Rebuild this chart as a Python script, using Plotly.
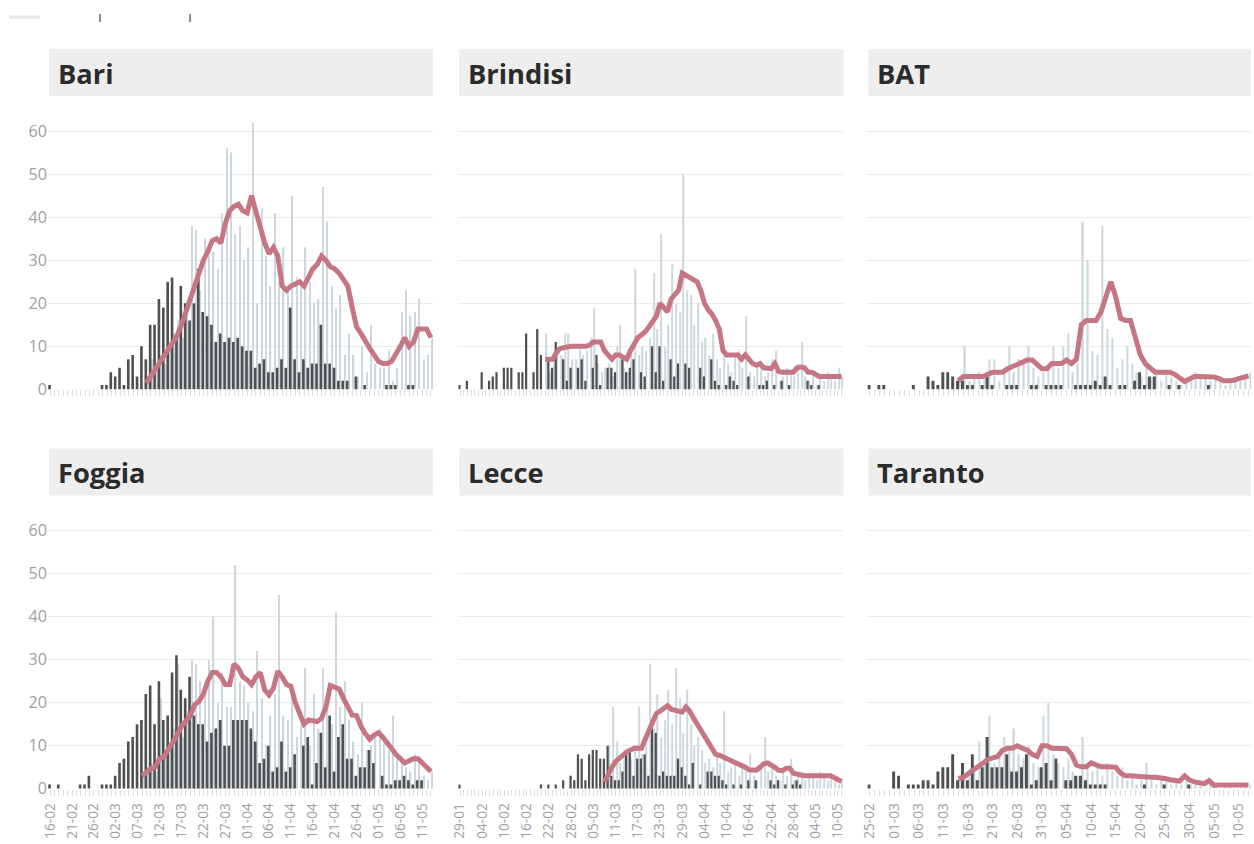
import plotly.graph_objects as go
import pandas as pd

# ---------------- data ----------------
panel_names = ["Bari", "Brindisi", "BAT", "Foggia", "Lecce", "Taranto"]

# first day of each column's daily axis and last day
col_first_day = ["2020-02-16", "2020-01-29", "2020-02-25"]
col_last_day = ["2020-05-13", "2020-05-11", "2020-05-12"]
col_tick_step_days = [5, 6, 5]

# dark bars: daily values from the column's first day
bari_dark = [1,0,0,0,0,0,0,0,0,0,
             0,0,1,1,4,3,5,1,7,8,
             3,10,7,15,15,21,19,25,26,13,
             24,20,16,20,28,18,17,15,11,13,
             11,12,11,12,10,9,9,5,6,7,
             4,4,5,7,5,19,7,4,7,5,
             6,6,15,6,6,5,2,2,2,0,
             3,0,1,0,0,0,0,1,1,1,
             0,0,1,1,0,0,0,0]
brindisi_dark = [1,0,2,0,0,0,4,0,2,3,
                 4,0,5,5,5,0,4,4,13,0,
                 4,14,8,0,7,5,11,0,7,2,
                 5,0,5,7,2,0,5,8,1,0,
                 5,5,4,0,7,4,5,7,0,4,
                 3,0,10,4,10,2,0,7,3,6,
                 0,6,5,0,0,5,3,0,7,2,
                 1,0,1,3,2,1,0,0,3,0,
                 0,1,1,2,0,1,0,2,0,1,
                 0,0,0,0,2,1,0,1,0,0,
                 0,0,0,0]
bat_dark = [1,0,1,1,0,0,0,0,0,1,
            0,0,3,2,1,4,4,3,2,2,
            1,1,0,1,3,1,0,0,1,1,
            1,0,0,1,1,0,1,1,1,1,
            0,0,1,1,1,1,2,1,3,1,
            0,1,1,0,2,4,1,3,3,0,
            0,1,0,1,0,0,0,0,0,1,
            0,0,0,0,0,0,0,0]
foggia_dark = [1,0,1,0,0,0,0,1,1,3,
               0,0,1,1,1,3,6,7,11,12,
               15,16,22,24,15,25,16,17,27,31,
               23,21,26,17,15,15,11,13,14,16,
               10,10,16,16,16,16,14,11,6,7,
               10,4,5,11,4,5,8,0,10,12,
               1,6,13,5,17,4,12,15,7,7,
               3,5,5,9,6,0,3,1,1,2,
               2,3,2,1,2,2,0,0]
lecce_dark = [1,0,0,0,0,0,0,0,0,0,
              0,0,0,0,0,0,0,0,0,0,
              0,0,1,0,1,0,1,0,2,0,
              3,2,8,7,2,8,9,9,7,7,
              10,3,2,2,4,9,9,3,7,7,
              8,3,14,13,3,4,3,3,3,7,
              5,3,1,6,0,1,0,4,4,3,
              3,2,1,0,1,0,1,0,2,0,
              2,0,0,0,2,1,2,0,1,0,
              1,2,1,0,0,0,0,0,0,0,
              0,0,0,0]
taranto_dark = [1,0,0,0,0,4,3,0,1,1,
                1,2,2,1,4,5,5,8,2,6,
                2,8,2,5,12,5,5,5,8,4,
                4,5,8,1,2,5,6,2,7,0,
                2,2,3,3,2,1,1,1,1,0,
                0,0,0,0,0,0,1,0,0,0,
                1,0,0,0,0,1,0,0,0,0,
                0,0,0,0,0,0,0,0]

# light bars and rolling line: daily values from their own first day
light_first_day = ["2020-03-09", "2020-02-21", "2020-03-14",
                   "2020-03-08", "2020-03-08", "2020-03-14"]

bari_light = [3,7,5,8,6,10,13,16,12,19,
              38,37,23,35,31,32,28,41,56,55,
              36,38,30,33,62,20,42,31,24,41,
              25,33,23,45,26,24,33,25,20,21,
              47,39,24,19,22,8,13,8,3,10,
              4,15,6,5,5,9,2,5,18,23,
              17,18,21,7,8,12]
bari_avg = [1.5,3,4.5,6,7.5,9,10.5,12.5,15,18,
            21,24.5,27.5,30,32,34.5,35,34,38.5,41.5,
            42.5,43,41.5,41,45,41,38,34,31.5,33,
            31,24,23,24,24.5,25,24,26,28,29,
            31,30,28.5,28,27,25.5,24,19,14.5,13,
            11,9.5,8,6.5,6,6,6.5,8,10,12,
            10,11,14,14,14,12]

brindisi_light = [13,4,6,9,8,13,13,7,7,10,
                  8,9,12,19,6,4,5,6,3,10,
                  15,5,4,9,28,8,10,9,12,27,
                  14,36,10,15,29,20,18,50,23,22,
                  15,20,11,12,8,13,7,5,10,6,
                  4,8,9,5,17,4,3,6,5,3,
                  4,7,9,2,3,5,4,3,6,11,
                  3,2,4,1,3,2,4,3,2,5,
                  3]
brindisi_avg = [7,7,7,8.5,9.5,9.7,10,10,10,10,
                10,10,10.3,11,11,11,9,8,7,8,
                8,7.5,7,9,10.5,12,12.7,13.4,14.5,16,
                17,20,19,18,21,22,23,27,26.5,26,
                25.5,25,23,20,18.5,17.5,16,14,9,8,
                8,8,8,7,8,7,6,5.6,6,5,
                5,4.8,6,4.2,4,4,4,4,5,5.2,
                5,4,4,3.5,3,3,3,3,3,3,
                3]

bat_light = [3,10,2,3,4,3,7,7,2,5,
             10,4,7,6,10,5,3,4,6,10,
             5,10,13,4,6,39,30,9,8,38,
             14,12,5,7,10,6,4,3,5,3,
             4,2,4,3,2,1,3,2,4,3,
             3,2,3,2,1,2,3,2,3,4]
bat_avg = [2,3,3,3,3,3,3.5,4,4,4,
           4.8,5.3,6,6.3,6.8,6.8,5.6,4.8,4.8,6,
           6,6,6.8,6,7,15,16,16,16,18,
           22,25,21.5,16.5,16,16,12,8,6,5,
           4,4,4,4,3.5,2.5,1.8,2.4,3,3,
           3,3,2.9,2.5,2,2,2.1,2.5,2.8,3.1]

foggia_light = [3,5,6,4,21,8,10,14,29,12,
                18,30,29,25,22,30,40,20,27,19,
                19,52,25,24,20,18,32,21,10,17,
                22,45,17,16,24,12,15,28,10,22,
                14,28,20,15,41,19,25,16,11,8,
                20,9,10,12,14,11,9,17,7,6,
                5,4,8,6,3,2,4]
foggia_avg = [3,4,4.7,5,7,7.5,9,10.5,12.5,14.5,
              16,17,19.5,20.3,22,25,27,27,26,24.2,
              24.2,29,28,26,25.3,24.2,26,27,23,21.8,
              23.4,27.3,26,24.2,23.8,20,17.5,15,16,15.8,
              15.6,16.4,19,24,23.5,23.2,21,19,17.1,17,
              14.5,12.8,11.5,12.5,13,12,10.5,9,8,7,
              6,6.5,7,7,6,5,4]

lecce_light = [2,10,19,11,6,8,9,7,10,19,
               8,12,29,14,22,12,16,23,15,28,
               21,13,23,15,10,12,9,6,7,5,
               8,6,18,4,5,6,3,5,4,8,
               3,2,5,12,4,5,3,2,4,3,
               7,2,3,4,2,3,3,2,4,3,
               2,3,2,1,2]
lecce_avg = [1.6,3.5,5,6.3,7.2,8,8.6,9,9.4,9.4,
             9.4,11.5,13.5,15.5,17.5,18,18.5,19.3,18.5,18.3,
             18,17.8,19,18,16.5,15,13.6,12.5,10.5,9,
             8,7.8,7.4,7,6.6,6.3,6,5.5,5,4.4,
             4.3,4.3,5,5.8,6,5.6,5,4.3,4.2,4.7,
             4.8,3.6,3.3,3.1,3,3,3,3,3,3,
             3,3,2.6,2,1.7]

taranto_light = [3,2,4,5,11,7,17,6,8,12,
                 9,14,8,7,10,6,5,17,20,8,
                 6,5,7,4,3,12,6,4,5,3,
                 6,4,3,5,2,3,1,2,6,2,
                 1,3,2,1,2,1,3,1,2,1,
                 0,2,1,0,1,1,0,1,1,1]
taranto_avg = [2.4,2.6,3.5,4.3,5,6,6.8,7.2,7.5,9,
               9.4,9.4,10,9.4,9,8,7.5,10,10,9.4,
               9.4,9.4,9.3,8,5.5,5.1,5.1,6,5.5,5.1,
               5.1,5.1,5,3.6,3,3,2.9,2.7,2.7,2.7,
               2.7,2.6,2.4,2.1,1.8,1.8,3,2,1.6,1.4,
               1.2,1.9,0.8,0.9,0.9,0.9,0.9,0.9,0.9,0.9]

y_ticks = [0, 10, 20, 30, 40, 50, 60]

dark_series = [bari_dark, brindisi_dark, bat_dark, foggia_dark, lecce_dark, taranto_dark]
light_series = [bari_light, brindisi_light, bat_light, foggia_light, lecce_light, taranto_light]
avg_series = [bari_avg, brindisi_avg, bat_avg, foggia_avg, lecce_avg, taranto_avg]

# ---------------- styling / layout ----------------
W, H = 1254, 844
DAY = 86400000
DARK = "#505050"
LIGHT = "#cdd8de"
LINE = "#c57682"
GRID = "#ebebeb"
TICK = "#dcdcdc"
LABEL = "#a0a0a0"

# target geometry in picture pixels; the photographed page comes out
# slightly reduced, so positions are mapped back to page pixels
SX, DX = 0.99, 9.0
SY = 0.986
col_px = [(48, 433), (458, 843), (867, 1252)]
row_px = [(100, 389), (499, 788)]      # top, bottom
strip_px = [(49, 96), (448, 495)]
Y_MAX = 67.2


def fx(t):
    return min(1.0, max(0.0, (t - DX) / SX / W))


def fy(t):
    return min(1.0, max(0.0, 1 - (t / SY) / H))


def fs(size):
    return size / SX


fig = go.Figure()
layout = dict(
    width=W, height=H, margin=dict(l=0, r=0, t=0, b=0),
    plot_bgcolor="white", paper_bgcolor="white",
    showlegend=False, barmode="overlay",
    font=dict(family="Open Sans, sans-serif", color=LABEL),
    shapes=[], annotations=[],
)

for i, name in enumerate(panel_names):
    r, c = divmod(i, 3)
    ax = "" if i == 0 else str(i + 1)
    xref, yref = "x" + ax, "y" + ax

    d_dates = pd.date_range(col_first_day[c], periods=len(dark_series[i]), freq="D")
    l_dates = pd.date_range(light_first_day[i], periods=len(light_series[i]), freq="D")

    fig.add_trace(go.Bar(x=l_dates, y=light_series[i], xaxis=xref, yaxis=yref,
                         width=0.3 * DAY, offset=0.18 * DAY,
                         marker=dict(color=LIGHT, line=dict(width=0)), hoverinfo="skip"))
    fig.add_trace(go.Bar(x=d_dates, y=dark_series[i], xaxis=xref, yaxis=yref,
                         width=0.6 * DAY, offset=-0.46 * DAY,
                         marker=dict(color=DARK, line=dict(width=0)), hoverinfo="skip"))
    fig.add_trace(go.Scatter(x=l_dates, y=avg_series[i], xaxis=xref, yaxis=yref,
                             mode="lines", line=dict(color=LINE, width=5),
                             hoverinfo="skip"))

    x0, x1 = col_px[c]
    top, bot = row_px[r]
    start = pd.Timestamp(col_first_day[c]) - pd.Timedelta(hours=12)
    end = pd.Timestamp(col_last_day[c]) + pd.Timedelta(hours=12)

    layout["xaxis" + ax] = dict(
        domain=[fx(x0), fx(x1)], anchor=yref, type="date",
        range=[start.isoformat(), end.isoformat()],
        tick0=col_first_day[c], dtick=col_tick_step_days[c] * DAY,
        tickformat="%d-%m", tickangle=-90,
        ticks="outside", ticklen=6, tickcolor=TICK, tickwidth=1,
        minor=dict(dtick=DAY, tick0=col_first_day[c], ticks="outside",
                   ticklen=6, tickcolor=TICK, tickwidth=1, showgrid=False),
        showticklabels=(r == 1), tickfont=dict(size=fs(13.5), color=LABEL),
        ticklabelstandoff=2,
        showgrid=False, zeroline=False, showline=False, fixedrange=True,
    )
    layout["yaxis" + ax] = dict(
        domain=[fy(bot), fy(top)], anchor=xref,
        range=[0, Y_MAX], tickvals=y_ticks,
        showgrid=True, gridcolor=GRID, gridwidth=1,
        zeroline=False, showline=False, ticks="",
        showticklabels=(c == 0), tickfont=dict(size=fs(16), color=LABEL),
        fixedrange=True,
    )

    s_top, s_bot = strip_px[r]
    layout["shapes"].append(dict(type="rect", xref="paper", yref="paper",
                                 x0=fx(x0 + 1), x1=fx(x1),
                                 y0=fy(s_bot), y1=fy(s_top),
                                 fillcolor="#eeeeee", line=dict(width=0), layer="below"))
    layout["annotations"].append(dict(text="<b>" + name + "</b>", xref="paper", yref="paper",
                                      x=fx(x0 + 8), y=fy((s_top + s_bot) / 2 + 1),
                                      xanchor="left", yanchor="middle", showarrow=False,
                                      font=dict(family="Open Sans, sans-serif", size=fs(27),
                                                color="#2b2b2b")))

# faint legend remnants at the top-left
layout["shapes"].append(dict(type="line", xref="paper", yref="paper",
                             x0=fx(5), x1=fx(40), y0=fy(17), y1=fy(17),
                             line=dict(color="#e6e6e6", width=3)))
for lx in (100, 190):
    layout["shapes"].append(dict(type="rect", xref="paper", yref="paper",
                                 x0=fx(lx - 1), x1=fx(lx + 1),
                                 y0=fy(22), y1=fy(14),
                                 fillcolor="#8a8a8a", line=dict(width=0)))

fig.update_layout(**layout)
fig.write_html("out.html", config={"displayModeBar": False},
               post_script="document.body.style.margin='0';")
